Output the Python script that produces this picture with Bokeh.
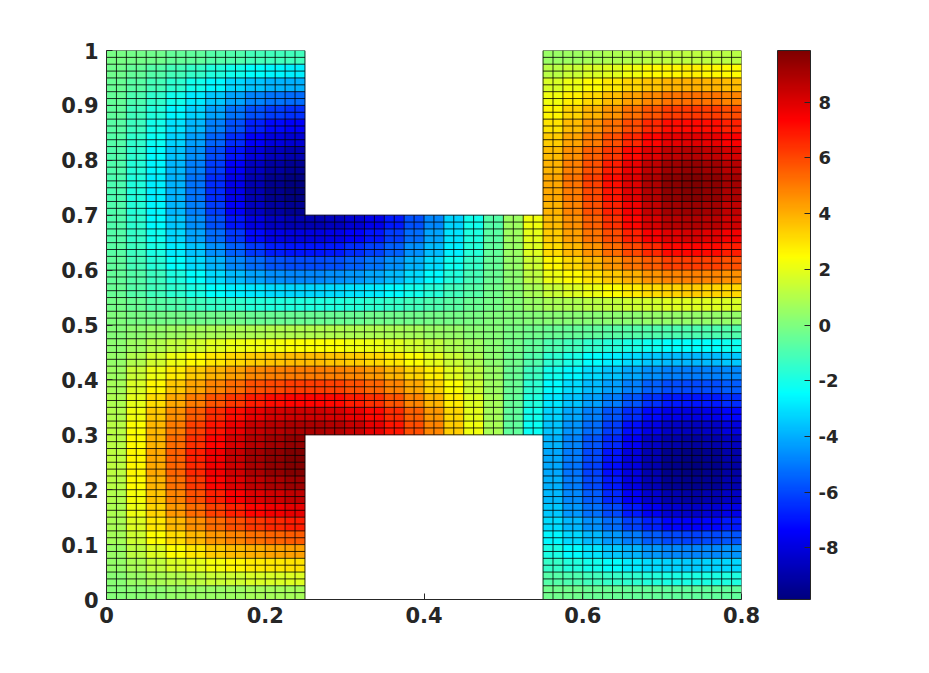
from bokeh.plotting import figure
from bokeh.models import (ColumnDataSource, LinearColorMapper, ColorBar, FixedTicker, Range1d)
from bokeh.transform import transform
from bokeh.embed import file_html
from bokeh.resources import INLINE
import numpy as np

# Cell values (top row first), 0.025 x 0.025 cells.
left_leg = [
[-.1,-.2,-.3,-.5,-.6,-.8,-.9,-1.1,-1.2,-1.2],
[-.3,-.5,-.8,-1.1,-1.4,-1.8,-2.1,-2.4,-2.6,-2.7],
[-.4,-.7,-1.1,-1.6,-2.1,-2.6,-3.2,-3.6,-3.9,-4],
[-.5,-1,-1.5,-2.1,-2.8,-3.5,-4.2,-4.8,-5.1,-5.3],
[-.6,-1.2,-1.8,-2.6,-3.3,-4.2,-5.1,-5.8,-6.2,-6.4],
[-.7,-1.3,-2.1,-3,-3.8,-4.9,-5.8,-6.7,-7.2,-7.4],
[-.8,-1.5,-2.3,-3.3,-4.3,-5.4,-6.5,-7.4,-8,-8.2],
[-.9,-1.6,-2.5,-3.6,-4.6,-5.9,-7,-8,-8.6,-8.9],
[-.9,-1.7,-2.6,-3.8,-4.9,-6.2,-7.4,-8.5,-9.1,-9.4],
[-1,-1.8,-2.7,-3.9,-5.1,-6.5,-7.7,-8.8,-9.5,-9.8],
[-1,-1.8,-2.7,-3.9,-5.1,-6.5,-7.7,-8.8,-9.5,-9.8],
[-.9,-1.7,-2.6,-3.8,-4.9,-6.2,-7.4,-8.5,-9.1,-9.4],
[-.9,-1.6,-2.5,-3.5,-4.6,-5.8,-7,-7.9,-8.5,-8.8],
[-.8,-1.4,-2.2,-3.2,-4.2,-5.3,-6.3,-7.2,-7.8,-8],
[-.7,-1.3,-2,-2.8,-3.6,-4.6,-5.5,-6.3,-6.8,-7],
[-.6,-1.1,-1.7,-2.4,-3.1,-3.9,-4.7,-5.3,-5.7,-5.9],
[-.5,-.8,-1.3,-1.9,-2.4,-3.1,-3.7,-4.2,-4.6,-4.7],
[-.4,-.8,-1.2,-1.6,-2,-2.4,-2.7,-2.9,-3.1,-3.2],
[-.2,-.4,-.7,-.9,-1.2,-1.4,-1.5,-1.7,-1.8,-1.8],
[0,-.1,-.2,-.2,-.3,-.3,-.3,-.4,-.4,-.4],
[.1,.3,.4,.6,.7,.8,.9,.9,1,1],
[.3,.6,1,1.3,1.6,1.9,2.1,2.2,2.3,2.4],
[.4,1,1.6,2.1,2.5,2.9,3.2,3.4,3.6,3.7],
[.6,1.4,2.1,2.8,3.4,3.9,4.3,4.7,4.9,5],
[.7,1.7,2.6,3.5,4.2,4.8,5.3,5.8,6,6.2],
[.9,2,3.1,4.1,5,5.7,6.3,6.8,7.1,7.3],
[1,2.2,3.5,4.6,5.6,6.5,7.1,7.7,8.1,8.3],
[1.1,2.4,3.8,5,6.1,7,7.7,8.4,8.7,9],
[1.1,2.5,3.9,5.3,6.4,7.3,8.1,8.7,9.1,9.4],
[1.2,2.6,4.1,5.5,6.7,7.6,8.4,9.1,9.5,9.8],
[1.2,2.6,4.1,5.4,6.6,7.6,8.3,9,9.4,9.7],
[1.1,2.5,3.9,5.2,6.3,7.3,8,8.6,9,9.3],
[1,2.3,3.6,4.8,5.8,6.7,7.4,8,8.3,8.6],
[.9,2.1,3.3,4.4,5.3,6.1,6.7,7.3,7.6,7.8],
[.8,1.8,2.9,3.8,4.6,5.3,5.8,6.3,6.6,6.8],
[.7,1.5,2.4,3.1,3.8,4.4,4.8,5.2,5.4,5.6],
[.5,1.2,1.8,2.4,2.9,3.4,3.7,4,4.2,4.3],
[.4,.8,1.3,1.7,2,2.3,2.6,2.8,2.9,3],
[.2,.5,.8,1,1.2,1.4,1.5,1.7,1.7,1.8],
[.1,.2,.3,.4,.5,.5,.6,.7,.7,.7],
]
bridge = [
[-8.8,-8.6,-8.2,-7.7,-6.9,-5.8,-4.7,-3.3,-2.1,-.8,.6,2.2],
[-8,-7.8,-7.4,-7,-6.2,-5.3,-4.2,-3,-1.9,-.7,.6,2],
[-7,-6.9,-6.5,-6.1,-5.5,-4.6,-3.7,-2.7,-1.7,-.6,.5,1.8],
[-5.9,-5.8,-5.5,-5.1,-4.6,-3.9,-3.1,-2.2,-1.4,-.5,.4,1.5],
[-4.7,-4.6,-4.4,-4.1,-3.7,-3.1,-2.5,-1.8,-1.1,-.4,.3,1.2],
[-3.2,-3.1,-3,-2.8,-2.5,-2.1,-1.7,-1.2,-.8,-.3,.2,.8],
[-1.8,-1.8,-1.7,-1.6,-1.4,-1.2,-1,-.7,-.4,-.2,.1,.5],
[-.4,-.4,-.4,-.3,-.3,-.3,-.2,-.2,-.1,0,0,.1],
[1,1,.9,.9,.8,.7,.5,.4,.2,.1,-.1,-.3],
[2.4,2.4,2.2,2.1,1.9,1.6,1.3,.9,.6,.2,-.2,-.6],
[3.7,3.6,3.4,3.2,2.9,2.4,2,1.4,.9,.3,-.3,-.9],
[5,4.9,4.7,4.4,3.9,3.3,2.7,1.9,1.2,.5,-.4,-1.3],
[6.2,6.1,5.8,5.4,4.8,4.1,3.3,2.4,1.5,.6,-.4,-1.6],
[7.3,7.2,6.8,6.4,5.7,4.8,3.9,2.8,1.8,.7,-.5,-1.8],
[8.3,8.1,7.7,7.2,6.5,5.5,4.4,3.2,2,.7,-.6,-2.1],
[9,8.8,8.4,7.8,7,5.9,4.8,3.4,2.2,.8,-.6,-2.3],
]
right_leg = [
[.5,.6,.7,.9,1,1.1,1.2,1.2,1.2,1.1],
[1.1,1.4,1.7,1.9,2.2,2.5,2.6,2.7,2.6,2.5],
[1.7,2.1,2.5,2.9,3.3,3.6,3.9,4,3.9,3.7],
[2.2,2.7,3.2,3.7,4.3,4.7,5.1,5.2,5.1,4.8],
[2.6,3.3,3.9,4.5,5.2,5.7,6.2,6.3,6.2,5.9],
[3,3.7,4.5,5.2,5.9,6.6,7.1,7.2,7.1,6.7],
[3.4,4.2,5,5.8,6.6,7.3,7.8,8,7.8,7.4],
[3.7,4.6,5.5,6.3,7.2,8,8.6,8.8,8.6,8.2],
[3.9,4.9,5.8,6.8,7.7,8.6,9.2,9.4,9.2,8.7],
[4.1,5.1,6.1,7.1,8,8.9,9.6,9.8,9.6,9.1],
[4.1,5,6,7,8,8.8,9.5,9.7,9.5,9],
[3.9,4.8,5.8,6.7,7.6,8.5,9.1,9.3,9.1,8.6],
[3.7,4.6,5.5,6.4,7.3,8.1,8.7,8.9,8.7,8.3],
[3.4,4.3,5.1,5.9,6.7,7.5,8,8.2,8,7.6],
[3.1,3.8,4.5,5.3,6,6.6,7.2,7.3,7.2,6.8],
[2.6,3.2,3.8,4.5,5.1,5.6,6.1,6.2,6.1,5.8],
[2.1,2.5,3,3.5,4,4.5,4.8,4.9,4.8,4.6],
[1.4,1.8,2.1,2.4,2.8,3.1,3.3,3.4,3.3,3.2],
[.8,.9,1.1,1.3,1.5,1.6,1.8,1.8,1.8,1.7],
[.2,.2,.2,.3,.3,.4,.4,.4,.4,.4],
[-.4,-.5,-.6,-.7,-.8,-.9,-1,-1,-1,-.9],
[-1,-1.2,-1.5,-1.7,-2,-2.2,-2.4,-2.4,-2.4,-2.2],
[-1.6,-2,-2.4,-2.7,-3.1,-3.5,-3.7,-3.8,-3.7,-3.5],
[-2.1,-2.6,-3.1,-3.6,-4.1,-4.6,-4.9,-5,-4.9,-4.7],
[-2.5,-3.1,-3.7,-4.3,-4.9,-5.5,-5.9,-6,-5.9,-5.6],
[-2.9,-3.6,-4.3,-5,-5.7,-6.4,-6.9,-7,-6.9,-6.5],
[-3.3,-4.1,-4.9,-5.7,-6.5,-7.2,-7.7,-7.9,-7.7,-7.3],
[-3.6,-4.5,-5.3,-6.2,-7.1,-7.8,-8.4,-8.6,-8.4,-8],
[-3.9,-4.8,-5.7,-6.6,-7.5,-8.4,-9,-9.2,-9,-8.6],
[-4.1,-5,-6,-7,-8,-8.8,-9.5,-9.7,-9.5,-9],
[-4.1,-5.1,-6.1,-7.1,-8,-8.9,-9.6,-9.8,-9.6,-9.1],
[-4,-5,-6,-6.9,-7.9,-8.7,-9.4,-9.6,-9.4,-8.9],
[-3.8,-4.7,-5.6,-6.6,-7.5,-8.3,-8.9,-9.1,-8.9,-8.5],
[-3.5,-4.4,-5.2,-6,-6.9,-7.6,-8.2,-8.4,-8.2,-7.8],
[-3.1,-3.8,-4.6,-5.3,-6.1,-6.7,-7.3,-7.4,-7.3,-6.9],
[-2.6,-3.2,-3.8,-4.4,-5,-5.6,-6,-6.1,-6,-5.7],
[-2,-2.5,-3,-3.5,-3.9,-4.4,-4.7,-4.8,-4.7,-4.5],
[-1.4,-1.8,-2.1,-2.4,-2.8,-3.1,-3.3,-3.4,-3.3,-3.2],
[-.8,-1,-1.2,-1.4,-1.6,-1.8,-2,-2,-2,-1.9],
[-.3,-.3,-.4,-.4,-.5,-.5,-.6,-.6,-.6,-.6],
]
x_ticks = [0, 0.2, 0.4, 0.6, 0.8]
x_labels = ["0", "0.2", "0.4", "0.6", "0.8"]
y_ticks = [0, .1, .2, .3, .4, .5, .6, .7, .8, .9, 1]
y_labels = ["0", "0.1", "0.2", "0.3", "0.4", "0.5", "0.6", "0.7", "0.8", "0.9", "1"]
cb_ticks = [-8, -6, -4, -2, 0, 2, 4, 6, 8]
v_min, v_max = -9.85, 9.85
CELL, MESH = 0.025, 0.0125
INK = "#262626"


def jet(n=256):
    out = []
    for t in np.linspace(0, 1, n):
        r = np.clip(min(4 * t - 1.5, 4.5 - 4 * t), 0, 1)
        g = np.clip(min(4 * t - 0.5, 3.5 - 4 * t), 0, 1)
        b = np.clip(min(4 * t + 0.5, 2.5 - 4 * t), 0, 1)
        out.append("#%02x%02x%02x" % (int(r * 255), int(g * 255), int(b * 255)))
    return out


l, r, t, b, v = [], [], [], [], []


def add(block, x0, y_top):
    for i, row in enumerate(block):
        for j, val in enumerate(row):
            l.append(x0 + j * CELL); r.append(x0 + (j + 1) * CELL)
            t.append(y_top - i * CELL); b.append(y_top - (i + 1) * CELL)
            v.append(val)


add(left_leg, 0.0, 1.0)
add(bridge, 0.25, 0.7)
add(right_leg, 0.55, 1.0)

mapper = LinearColorMapper(palette=jet(), low=v_min, high=v_max)

p = figure(width=905, height=650, output_backend="svg", toolbar_location=None,
           x_range=Range1d(0, 0.8), y_range=Range1d(0, 1),
           min_border_left=106, min_border_top=50, min_border_bottom=50, min_border_right=10,
           frame_width=635, frame_height=549, outline_line_color=None)
p.grid.visible = False
p.quad(left="l", right="r", top="t", bottom="b",
       source=ColumnDataSource(dict(l=l, r=r, t=t, b=b, v=v)),
       fill_color=transform("v", mapper), line_color=transform("v", mapper), line_width=0.5)

# straight mesh lines, 0.0125 apart, clipped to the H outline
xs, ys = [], []
for k in range(65):
    x = k * MESH
    if abs(x - 0.25) < 1e-9 or abs(x - 0.55) < 1e-9:
        xs.append([x, x]); ys.append([0, 1])
    elif 0.25 < x < 0.55:
        xs.append([x, x]); ys.append([0.3, 0.7])
    else:
        xs.append([x, x]); ys.append([0, 1])
for k in range(81):
    y = k * MESH
    if y < 0.3 - 1e-9 or y > 0.7 + 1e-9:
        xs += [[0, 0.25], [0.55, 0.8]]; ys += [[y, y], [y, y]]
    else:
        xs.append([0, 0.8]); ys.append([y, y])
p.multi_line(xs, ys, line_color="black", line_alpha=0.8, line_width=1)

for ax, ticks, labels in ((p.xaxis[0], x_ticks, x_labels), (p.yaxis[0], y_ticks, y_labels)):
    ax.ticker = FixedTicker(ticks=ticks)
    ax.major_label_overrides = dict(zip(ticks, labels))
    ax.major_tick_in = 6
    ax.major_tick_out = 0
    ax.minor_tick_line_color = None
    ax.axis_line_color = INK
    ax.major_tick_line_color = INK
    ax.major_label_text_color = INK
    ax.major_label_text_font = "DejaVu Sans"
    ax.major_label_text_font_style = "bold"
    ax.major_label_text_font_size = "21px"
    ax.major_label_standoff = 8
p.xaxis[0].major_label_standoff = 7

cb = ColorBar(color_mapper=mapper, ticker=FixedTicker(ticks=cb_ticks),
              major_label_overrides={k: str(k) for k in cb_ticks},
              width=33, height=549, padding=0, margin=0, location=(36, 0),
              bar_line_color=INK, major_tick_line_color=INK, major_tick_in=6,
              minor_tick_line_color=None, major_label_text_color=INK,
              major_label_text_font="DejaVu Sans", major_label_text_font_style="bold",
              major_label_text_font_size="18px", label_standoff=8, background_fill_color=None)
p.add_layout(cb, "right")

open("out.html", "w").write(file_html(p, INLINE))
